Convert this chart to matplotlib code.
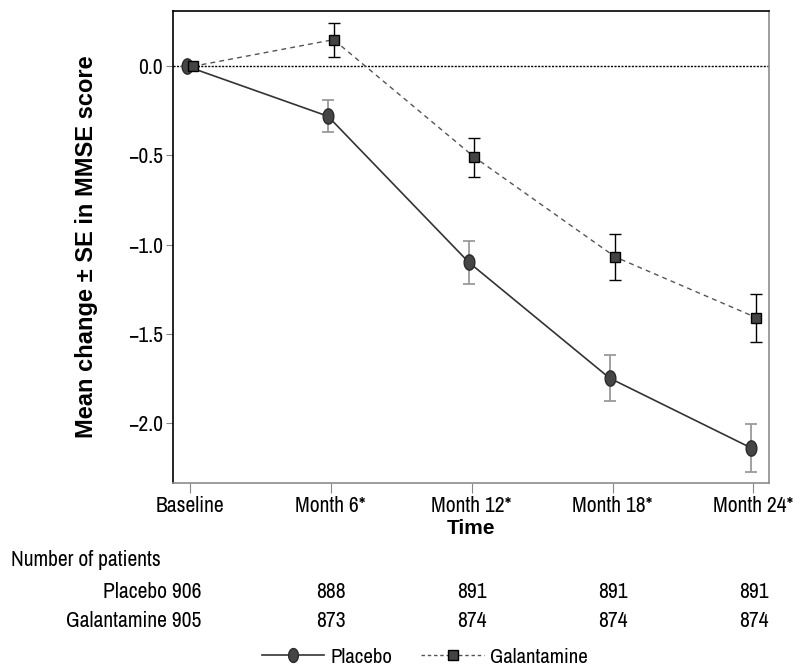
import numpy as np
import matplotlib
matplotlib.use('Agg')
import matplotlib.pyplot as plt
from matplotlib.path import Path
from matplotlib.lines import Line2D

# mean change in MMSE score and standard error at each visit
visits = ['Baseline', 'Month 6*', 'Month 12*', 'Month 18*', 'Month 24*']
placebo_mean = [0.0, -0.28, -1.10, -1.75, -2.14]
placebo_se = [0.0, 0.09, 0.12, 0.13, 0.135]
galant_mean = [0.0, 0.15, -0.51, -1.07, -1.41]
galant_se = [0.0, 0.095, 0.11, 0.13, 0.135]

# number of patients per visit
placebo_n = [906, 888, 891, 891, 891]
galant_n = [905, 873, 874, 874, 874]

narrow = ['Liberation Sans Narrow', 'Arial Narrow', 'Archivo Narrow',
          'Roboto Condensed', 'PT Sans Narrow', 'Liberation Sans', 'DejaVu Sans']
bold_font = ['Liberation Sans', 'Arimo', 'DejaVu Sans']
plt.rcParams['font.family'] = narrow

x = np.arange(len(visits))

# vertical ellipse marker for placebo
t = np.linspace(0, 2 * np.pi, 60)
ellipse = Path(np.column_stack([0.7 * np.cos(t), np.sin(t)]), closed=True)

fig = plt.figure(figsize=(8.12, 6.65), dpi=100)
ax = fig.add_axes([0.213, 0.274, 0.734, 0.709])

ax.axhline(0, color='black', lw=1, ls=(0, (1.5, 1)), zorder=1)

ax.errorbar(x - 0.02, placebo_mean, yerr=placebo_se, fmt='none',
            ecolor='#9a9a9a', elinewidth=1.3, capsize=4, capthick=1.3, zorder=2)
ax.plot(x - 0.02, placebo_mean, color='#333333', lw=1.2, ls='-',
        marker=ellipse, ms=11, mfc='#454545', mec='#2a2a2a', zorder=3)

ax.errorbar(x + 0.02, galant_mean, yerr=galant_se, fmt='none',
            ecolor='black', elinewidth=1, capsize=4.5, capthick=1, zorder=2)
ax.plot(x + 0.02, galant_mean, color='#555555', lw=1, ls=(0, (3.5, 3)),
        marker='s', ms=7, mfc='#444444', mec='black', zorder=3)

ax.set_xlim(-0.12, 4.11)
ax.set_ylim(-2.337, 0.309)
ax.set_xticks(x)
ax.set_xticklabels(visits, fontsize=15.5)
ax.set_yticks([0, -0.5, -1.0, -1.5, -2.0])
ax.set_yticklabels(['0.0', '\u22120.5', '\u22121.0', '\u22121.5', '\u22122.0'], fontsize=15.5)
ax.tick_params(axis='x', length=7.5, color='#888888', pad=2)
ax.tick_params(axis='y', length=5, color='#888888', pad=2)

for side in ['left', 'top']:
    ax.spines[side].set_color('black')
for side in ['right', 'bottom']:
    ax.spines[side].set_color('#8c8c8c')
for sp in ax.spines.values():
    sp.set_linewidth(1.2)

ax.set_xlabel('Time', fontsize=15, fontweight='bold', family=bold_font, labelpad=2)
ax.set_ylabel('Mean change \u00b1 SE in MMSE score', fontsize=17, fontweight='bold',
              family=bold_font, labelpad=22)

# patient counts table under the axis
tr = ax.get_xaxis_transform()
ax.text(-1.27, -0.176, 'Number of patients', transform=tr, fontsize=15.5,
        ha='left', va='baseline', clip_on=False)
rows = [('Placebo', placebo_n, -0.244), ('Galantamine', galant_n, -0.305)]
for name, counts, yy in rows:
    ax.text(0.08, yy, '%s %d' % (name, counts[0]), transform=tr, fontsize=15.5,
            ha='right', va='baseline', clip_on=False)
    for i in range(1, len(counts)):
        ax.text(x[i], yy, str(counts[i]), transform=tr, fontsize=15.5,
                ha='center', va='baseline', clip_on=False)

# legend along the bottom edge
handles = [
    Line2D([], [], color='#333333', lw=1.2, marker=ellipse, ms=10,
           mfc='#454545', mec='#2a2a2a'),
    Line2D([], [], color='#555555', lw=1, ls=(0, (2.5, 2)), marker='s', ms=7,
           mfc='#444444', mec='black'),
]
fig.legend(handles, ['Placebo', 'Galantamine'], loc='center',
           bbox_to_anchor=(0.523, 0.012), ncol=2, frameon=False, fontsize=15,
           handlelength=3.0, handletextpad=0.3, columnspacing=1.4,
           borderpad=0)

fig.savefig('out.png', dpi=100)
